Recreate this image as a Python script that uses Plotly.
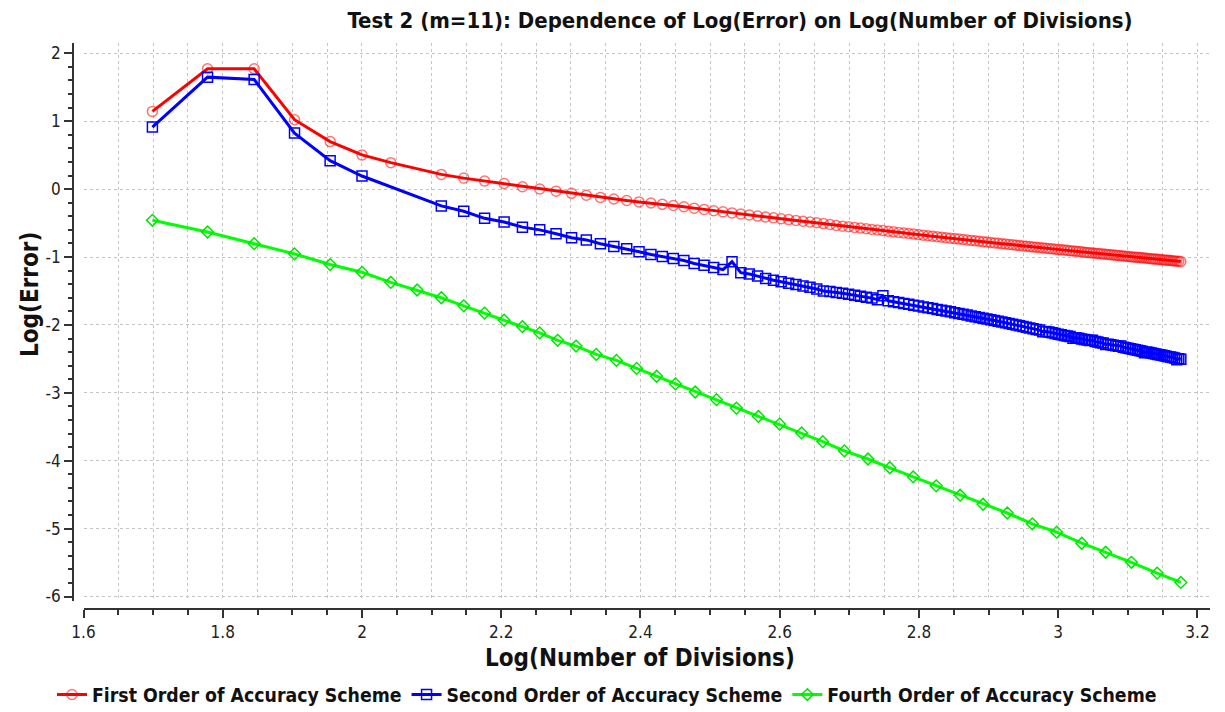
import numpy as np
import plotly.graph_objects as go

# ---------------- data ----------------
# number of divisions for the first-order scheme
n_first = [50, 60, 70, 80, 90, 100, 110] + list(range(130, 1510, 10))
log_err_first = [
    1.145, 1.773, 1.773, 1.022, 0.700, 0.504, 0.390,
    0.217, 0.162, 0.120, 0.082, 0.035, 0.002, -0.030, -0.062, -0.090, -0.122,
    -0.146, -0.168, -0.188, -0.205, -0.224, -0.242, -0.260, -0.280, -0.299, -0.318,
    -0.335, -0.350, -0.365, -0.381, -0.397, -0.410, -0.423, -0.436, -0.449, -0.461,
    -0.473, -0.485, -0.496, -0.508, -0.521, -0.535, -0.545, -0.554,
    -0.564, -0.574, -0.583, -0.593, -0.602, -0.611, -0.620, -0.629, -0.638, -0.646,
    -0.654, -0.662, -0.670, -0.678, -0.686, -0.693, -0.700, -0.708, -0.715, -0.722,
    -0.729, -0.736, -0.742, -0.749, -0.755, -0.762, -0.768, -0.774, -0.780, -0.786,
    -0.792, -0.798, -0.804, -0.809, -0.815, -0.820, -0.826, -0.831, -0.836, -0.841,
    -0.846, -0.851, -0.856, -0.861, -0.866, -0.871, -0.875, -0.880, -0.884, -0.889,
    -0.893, -0.898, -0.902, -0.906, -0.910, -0.915, -0.919, -0.923, -0.928, -0.932,
    -0.936, -0.940, -0.944, -0.948, -0.952, -0.956, -0.960, -0.963, -0.967, -0.971,
    -0.975, -0.978, -0.982, -0.985, -0.989, -0.992, -0.995, -0.999, -1.002, -1.005,
    -1.008, -1.012, -1.015, -1.018, -1.021, -1.024, -1.028, -1.031, -1.034, -1.037,
    -1.040, -1.043, -1.046, -1.049, -1.052, -1.055, -1.058, -1.061, -1.063, -1.066,
]

# number of divisions for the second-order scheme
n_second = [50, 60, 70, 80, 90, 100] + list(range(130, 1510, 10))
log_err_second = [
    0.914, 1.649, 1.615, 0.825, 0.419, 0.193,
    -0.247, -0.326, -0.430, -0.484, -0.560, -0.600, -0.657, -0.716, -0.748, -0.805,
    -0.844, -0.879, -0.923, -0.963, -0.993, -1.020, -1.052, -1.096, -1.121, -1.155,
    -1.185, -1.070, -1.230, -1.249, -1.281, -1.318, -1.343, -1.365, -1.388, -1.405,
    -1.425, -1.447, -1.472, -1.500, -1.506, -1.521, -1.534, -1.547,
    -1.562, -1.576, -1.591, -1.605, -1.628, -1.570, -1.645, -1.659, -1.671, -1.684,
    -1.697, -1.710, -1.723, -1.736, -1.748, -1.760, -1.772, -1.784, -1.796, -1.807,
    -1.819, -1.831, -1.843, -1.855, -1.867, -1.878, -1.889, -1.900, -1.911, -1.923,
    -1.935, -1.946, -1.957, -1.968, -1.979, -1.990, -2.001, -2.012, -2.023, -2.034,
    -2.045, -2.056, -2.066, -2.076, -2.100, -2.096, -2.106, -2.116, -2.126, -2.136,
    -2.145, -2.154, -2.163, -2.171, -2.195, -2.189, -2.198, -2.206, -2.215, -2.223,
    -2.231, -2.226, -2.246, -2.253, -2.261, -2.268, -2.290, -2.283, -2.291, -2.298,
    -2.306, -2.313, -2.310, -2.328, -2.336, -2.343, -2.351, -2.358, -2.366, -2.373,
    -2.380, -2.387, -2.410, -2.400, -2.407, -2.414, -2.421, -2.428, -2.434, -2.441,
    -2.448, -2.454, -2.461, -2.467, -2.474, -2.480, -2.487, -2.512, -2.500, -2.506,
]

# number of divisions for the fourth-order scheme
n_fourth = [50, 60, 70, 80, 90, 100, 110, 120, 130, 140, 150, 160, 170, 180, 191,
            203, 217, 232, 248, 265, 282, 301, 323, 345, 371, 398, 428, 459, 493,
            533, 573, 619, 668, 723, 780, 845, 918, 995, 1081, 1170, 1274, 1387, 1500]
log_err_fourth = [
    -0.459, -0.632, -0.804, -0.953, -1.111, -1.225, -1.373, -1.486, -1.600, -1.719,
    -1.827, -1.930, -2.025, -2.118, -2.227, -2.311, -2.434, -2.523, -2.641, -2.756,
    -2.869, -2.988, -3.101, -3.225, -3.348, -3.462, -3.590, -3.719, -3.856, -3.975,
    -4.104, -4.237, -4.370, -4.508, -4.641, -4.770, -4.929, -5.052, -5.215, -5.348,
    -5.496, -5.655, -5.793,
]

series_names = ["First Order of Accuracy Scheme",
                "Second Order of Accuracy Scheme",
                "Fourth Order of Accuracy Scheme"]

y_tick_values = [-6, -5, -4, -3, -2, -1, 0, 1, 2]
y_tick_labels = ["-6", "-5", "-4", "-3", "-2", "-1", "0", "1", "2"]

title_text = "Test 2 (m=11): Dependence of Log(Error) on Log(Number of Divisions)"
x_title = "Log(Number of Divisions)"
y_title = "Log(Error)"

# ---------------- figure ----------------
FONT = "'DejaVu Sans Condensed', 'DejaVu Sans', sans-serif"
W, H = 1225, 712
ML, MR, MT, MB = 73, 15, 43, 103
PW, PH = W - ML - MR, H - MT - MB

fig = go.Figure()

fig.add_trace(go.Scatter(
    x=np.log10(n_first), y=log_err_first, name=series_names[0],
    mode="lines+markers",
    line=dict(color="rgb(255,0,0)", width=3),
    marker=dict(symbol="circle-open", size=10, color="rgba(255,0,0,0.55)",
                line=dict(width=1.5, color="rgba(255,0,0,0.55)")),
))
fig.add_trace(go.Scatter(
    x=np.log10(n_second), y=log_err_second, name=series_names[1],
    mode="lines+markers",
    line=dict(color="rgb(0,0,255)", width=3),
    marker=dict(symbol="square-open", size=10, color="rgb(0,0,255)",
                line=dict(width=1.5, color="rgb(0,0,255)")),
))
fig.add_trace(go.Scatter(
    x=np.log10(n_fourth), y=log_err_fourth, name=series_names[2],
    mode="lines+markers",
    line=dict(color="rgb(0,255,0)", width=3),
    marker=dict(symbol="diamond-open", size=9, color="rgb(0,230,0)",
                line=dict(width=1.5, color="rgb(0,230,0)")),
))

grid = dict(gridcolor="#c4c4c4", griddash="dot", gridwidth=1)

fig.update_layout(
    width=W, height=H,
    margin=dict(l=ML, r=MR, t=MT, b=MB, autoexpand=False),
    paper_bgcolor="white", plot_bgcolor="white",
    font=dict(family=FONT, size=16, color="#222222"),
    showlegend=True,
    title=dict(text=title_text, x=740 / W, xref="container", xanchor="center",
               y=1 - 20 / H, yref="container", yanchor="middle",
               font=dict(family=FONT, size=22, color="#111111", weight="bold")),
    legend=dict(orientation="h", xref="paper", yref="paper",
                x=(607 - ML) / PW, xanchor="center",
                y=(MT + PH - 695) / PH, yanchor="middle",
                font=dict(family=FONT, size=19.3, color="#111111", weight="bold"),
                itemwidth=30, bgcolor="rgba(0,0,0,0)"),
    xaxis=dict(
        range=[1.6, 3.218], domain=[10.5 / PW, 1], anchor="free", position=0,
        tick0=1.6, dtick=0.2, ticks="outside", ticklen=8, tickwidth=1.5,
        tickcolor="#333333", showline=True, linecolor="#333333", linewidth=1.5,
        showgrid=True, **grid, zeroline=False,
        tickfont=dict(family=FONT, size=17, color="#222222"),
        minor=dict(tickmode="linear", tick0=1.6, dtick=0.05, ticks="outside",
                   ticklen=5, tickcolor="#333333", showgrid=True,
                   gridcolor="#c4c4c4", griddash="dot", gridwidth=1),
    ),
    yaxis=dict(
        range=[-6.066, 2.152], domain=[8 / PH, 1], anchor="free", position=0,
        tickmode="array", tickvals=y_tick_values, ticktext=y_tick_labels,
        ticks="outside", ticklen=8, tickwidth=1.5, tickcolor="#333333",
        showline=True, linecolor="#333333", linewidth=1.5,
        showgrid=True, **grid, zeroline=False,
        tickfont=dict(family=FONT, size=17, color="#222222"),
        minor=dict(tickmode="linear", tick0=0, dtick=0.2, ticks="outside",
                   ticklen=4, tickcolor="#333333", showgrid=False),
    ),
    annotations=[
        dict(text=x_title, xref="paper", yref="paper",
             x=(640 - ML) / PW, y=(MT + PH - 658) / PH,
             xanchor="center", yanchor="middle", showarrow=False,
             font=dict(family=FONT, size=24, color="#111111", weight="bold")),
        dict(text=y_title, xref="paper", yref="paper",
             x=(30 - ML) / PW, y=(MT + PH - 295) / PH, textangle=-90,
             xanchor="center", yanchor="middle", showarrow=False,
             font=dict(family=FONT, size=24, color="#111111", weight="bold")),
    ],
)

# remove the page's default body margin so the figure sits at the window origin
fig.write_html("out.html",
               config={"displayModeBar": False},
               post_script="document.body.style.margin='0';"
                           "document.body.style.overflow='hidden';")
